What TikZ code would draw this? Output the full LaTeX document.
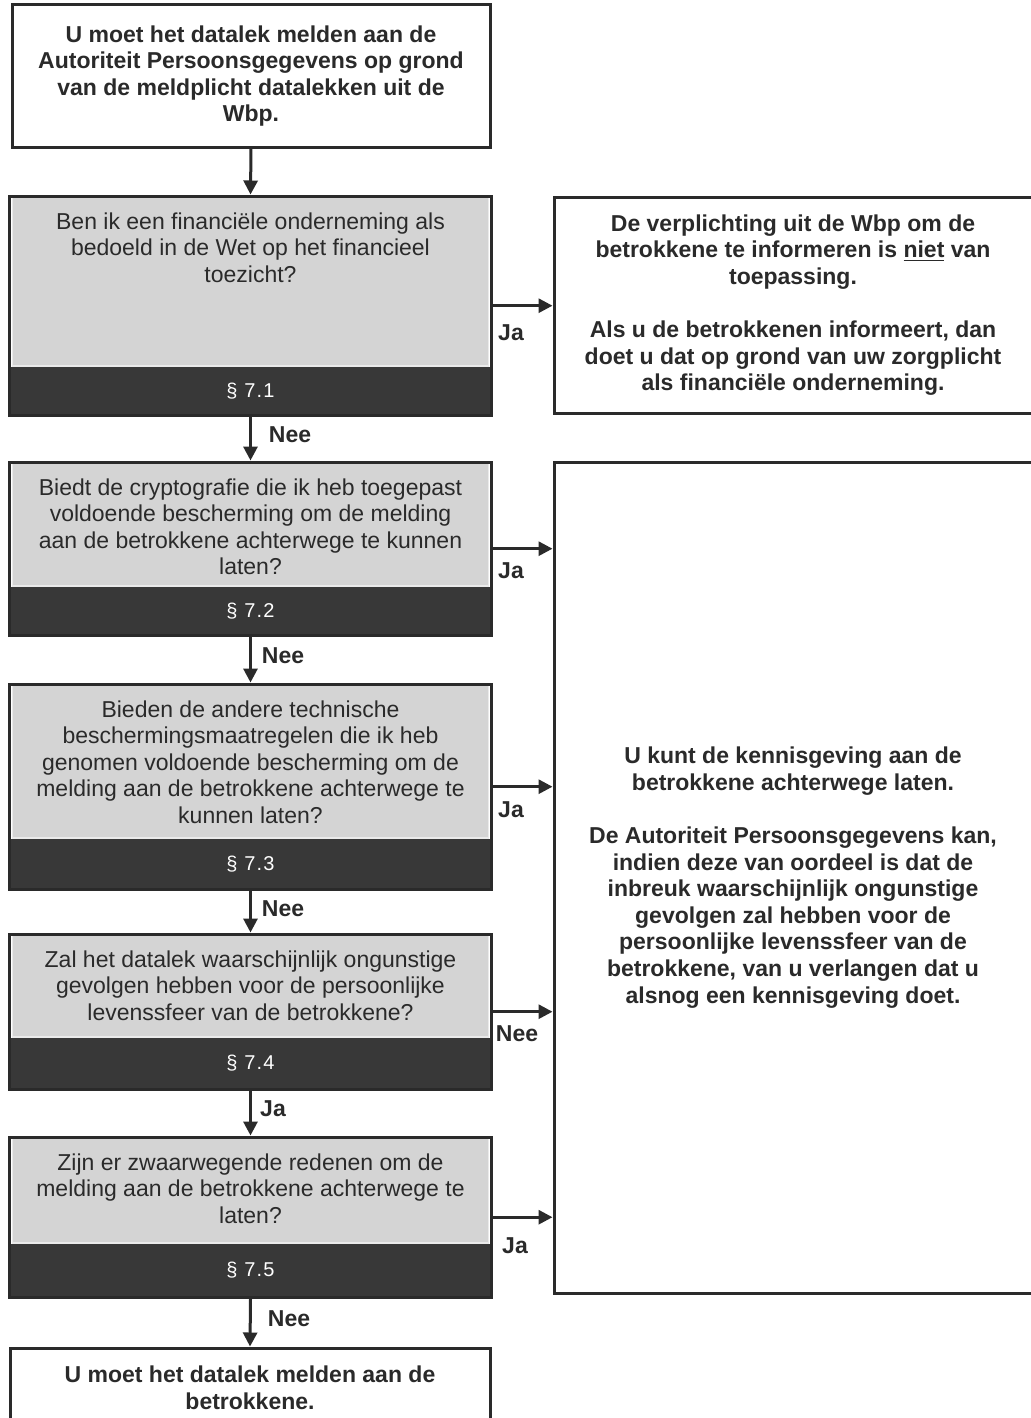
\documentclass[tikz,border=0pt]{standalone}
\usepackage{fontspec}
\setmainfont{Liberation Sans}
\newfontfamily\secfont[LetterSpace=6]{Liberation Sans}
\usetikzlibrary{arrows.meta,fit}
\definecolor{ink}{HTML}{2A2A2A}
\definecolor{qgray}{HTML}{D4D4D4}
\definecolor{qedge}{HTML}{EAEAEA}
\definecolor{bandc}{HTML}{383838}
\tikzset{
  outbox/.style={draw=ink, line width=1.5pt, fill=white, inner sep=0pt, align=center,
    font=\bfseries\fontsize{11.5}{13.3}\selectfont, text=ink},
  graybox/.style={fill=qgray, draw=qedge, line width=0.8pt, minimum width=238pt, inner sep=0pt},
  band/.style={fill=bandc, draw=bandc, text=white, font=\secfont\fontsize{10}{12}\selectfont,
    minimum width=240.5pt, inner sep=0pt},
  qtext/.style={align=center, font=\fontsize{11.5}{13.3}\selectfont, text=ink, inner sep=0pt},
  frame/.style={draw=ink, line width=1.5pt, inner sep=0pt},
  arr/.style={draw=ink, line width=1.5pt, -{Triangle[width=7pt,length=7pt]}},
  lab/.style={font=\bfseries\fontsize{11.5}{13}\selectfont, text=ink, inner sep=0pt}
}
\begin{document}
\begin{tikzpicture}[x=0.5pt,y=-0.5pt]
\useasboundingbox[fill=white] (0,0) rectangle (1030,1418);

% top box
\node[outbox, minimum width=239pt, minimum height=71pt] (q0) at (251,76)
  {U moet het datalek melden aan de\\Autoriteit Persoonsgegevens op grond\\van de meldplicht datalekken uit de\\Wbp.};

% question 1
\node[graybox, minimum height=84.5pt, anchor=north] (g1) at (250.5,196) {};
\node[band, minimum height=24pt, anchor=north] (b1) at (g1.south) {\S\ 7.1};
\node[frame, fit=(g1)(b1)] (q1) {};
\node[qtext, anchor=north] (t1) at ([yshift=-8pt]g1.north)
  {Ben ik een financiële onderneming als\\bedoeld in de Wet op het financieel\\toezicht?};

% question 2
\node[graybox, minimum height=61.5pt, anchor=north] (g2) at (250.5,462) {};
\node[band, minimum height=24pt, anchor=north] (b2) at (g2.south) {\S\ 7.2};
\node[frame, fit=(g2)(b2)] (q2) {};
\node[qtext, anchor=north] (t2) at ([yshift=-8pt]g2.north)
  {Biedt de cryptografie die ik heb toegepast\\voldoende bescherming om de melding\\aan de betrokkene achterwege te kunnen\\laten?};

% question 3
\node[graybox, minimum height=76.5pt, anchor=north] (g3) at (250.5,684) {};
\node[band, minimum height=25pt, anchor=north] (b3) at (g3.south) {\S\ 7.3};
\node[frame, fit=(g3)(b3)] (q3) {};
\node[qtext, anchor=north] (t3) at ([yshift=-8pt]g3.north)
  {Bieden de andere technische\\beschermingsmaatregelen die ik heb\\genomen voldoende bescherming om de\\melding aan de betrokkene achterwege te\\kunnen laten?};

% question 4
\node[graybox, minimum height=51pt, anchor=north] (g4) at (250.5,934) {};
\node[band, minimum height=25.5pt, anchor=north] (b4) at (g4.south) {\S\ 7.4};
\node[frame, fit=(g4)(b4)] (q4) {};
\node[qtext, anchor=north] (t4) at ([yshift=-8pt]g4.north)
  {Zal het datalek waarschijnlijk ongunstige\\gevolgen hebben voor de persoonlijke\\levenssfeer van de betrokkene?};

% question 5
\node[graybox, minimum height=52.5pt, anchor=north] (g5) at (250.5,1137) {};
\node[band, minimum height=26.5pt, anchor=north] (b5) at (g5.south) {\S\ 7.5};
\node[frame, fit=(g5)(b5)] (q5) {};
\node[qtext, anchor=north] (t5) at ([yshift=-8pt]g5.north)
  {Zijn er zwaarwegende redenen om de\\melding aan de betrokkene achterwege te\\laten?};

% bottom box
\node[outbox, minimum width=240pt, minimum height=40pt] (q6) at (250,1388)
  {U moet het datalek melden aan de\\betrokkene.};

% right boxes
\node[outbox, minimum width=239pt, minimum height=108pt] (ra) at (793,305)
  {De verplichting uit de Wbp om de\\betrokkene te informeren is \underline{niet} van\\toepassing.\\[13.3pt]Als u de betrokkenen informeert, dan\\doet u dat op grond van uw zorgplicht\\als financiële onderneming.};
\node[outbox, minimum width=239pt, minimum height=415.5pt] (rb) at (793,877.5)
  {U kunt de kennisgeving aan de\\betrokkene achterwege laten.\\[13.3pt]De Autoriteit Persoonsgegevens kan,\\indien deze van oordeel is dat de\\inbreuk waarschijnlijk ongunstige\\gevolgen zal hebben voor de\\persoonlijke levenssfeer van de\\betrokkene, van u verlangen dat u\\alsnog een kennisgeving doet.};

% vertical connectors
\draw[arr] (q0.south) -- (q1.north);
\draw[arr] (q1.south) -- (q2.north);
\draw[arr] (q2.south) -- (q3.north);
\draw[arr] (q3.south) -- (q4.north);
\draw[arr] (q4.south) -- (q5.north);
\draw[arr] (q5.south) -- (q6.north);

% horizontal connectors
\draw[arr] (q1.east) -- (q1.east -| ra.west);
\draw[arr] (q2.east) -- (q2.east -| rb.west);
\draw[arr] (q3.east) -- (q3.east -| rb.west);
\draw[arr] (q4.east) -- (q4.east -| rb.west);
\draw[arr] (q5.east) -- (q5.east -| rb.west);

% labels
\node[lab] (l1) at (290,435) {Nee};
\node[lab] (l2) at (283,656) {Nee};
\node[lab] (l3) at (283,909) {Nee};
\node[lab] (l4) at (273,1109) {Ja};
\node[lab] (l5) at (289,1319) {Nee};
\node[lab] (h1) at (511,333) {Ja};
\node[lab] (h2) at (511,571) {Ja};
\node[lab] (h3) at (511,810) {Ja};
\node[lab] (h4) at (517,1034) {Nee};
\node[lab] (h5) at (515,1246) {Ja};
\end{tikzpicture}
\end{document}
